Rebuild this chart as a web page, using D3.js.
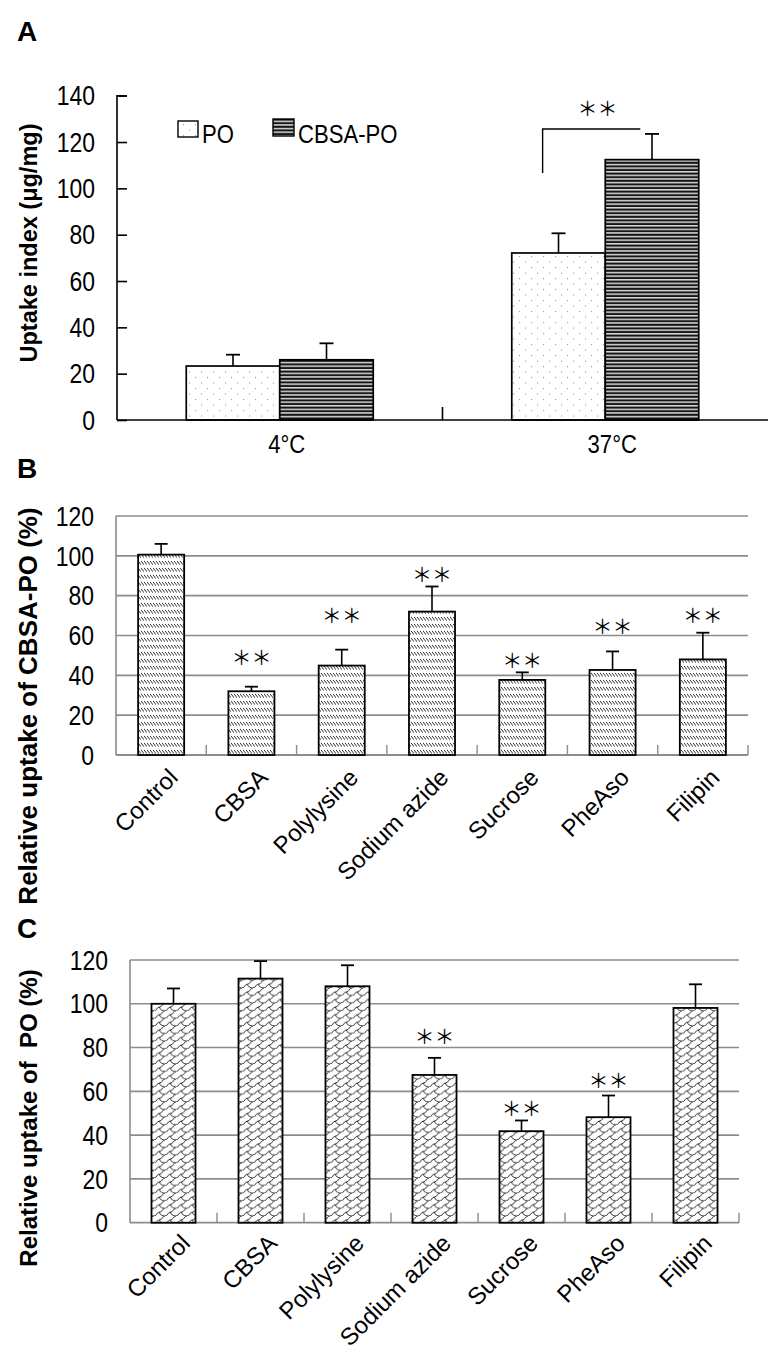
<!DOCTYPE html>
<html><head><meta charset="utf-8">
<script src="https://cdn.jsdelivr.net/npm/d3@7"></script>
<style>
html,body{margin:0;padding:0;background:#fff;}
svg{display:block;font-family:"Liberation Sans",Arial,sans-serif;}
</style></head>
<body>
<svg id="chart" width="784" height="1360"></svg>
<script>
// ---------- DATA ----------
const tempCategories = ["4°C", "37°C"];
const seriesA = ["PO", "CBSA-PO"];
const poValues = [23.3, 72.1];
const poErrors = [4.9, 8.5];
const cbsaPoValues = [26.0, 112.4];
const cbsaPoErrors = [7.1, 11.1];
const ticksA = [0, 20, 40, 60, 80, 100, 120, 140];
const sigA = { category: "37°C", top: 125.6, leg: 106.6, star: 135 };

const inhibitors = ["Control", "CBSA", "Polylysine", "Sodium azide", "Sucrose", "PheAso", "Filipin"];
const relCbsaPo = [100.6, 32.0, 44.9, 72.0, 37.7, 42.7, 48.0];
const relCbsaPoErr = [5.4, 2.3, 8.0, 12.6, 3.8, 9.3, 13.4];
const relCbsaPoStar = [null, 49.4, 70.3, 91.2, 48.2, 65.0, 70.3];
const relPo = [100.0, 111.5, 108.0, 67.5, 41.8, 48.2, 98.1];
const relPoErr = [7.0, 8.0, 9.6, 7.8, 4.9, 9.9, 10.8];
const relPoStar = [null, null, null, 85.3, 52.6, 65.5, null];
const ticksRel = [0, 20, 40, 60, 80, 100, 120];

// ---------- SETUP ----------
const svg = d3.select("#chart");
const defs = svg.append("defs");
const FONT = '"Liberation Sans",Arial,sans-serif';
const STAR = "＊＊";
const STARFONT = '"Noto Sans CJK SC","Noto Sans CJK JP",sans-serif';
const NARROW = 0.85;

function ctext(g, x, y, txt, size, anchor, baseline) {
  return g.append("text")
    .attr("transform", `translate(${x},${y}) scale(${NARROW},1)`)
    .attr("text-anchor", anchor || "start")
    .attr("dominant-baseline", baseline || "auto")
    .attr("font-family", FONT).attr("font-size", size).text(txt);
}

// patterns
const pDots = defs.append("pattern").attr("id", "pDots").attr("patternUnits", "userSpaceOnUse")
  .attr("width", 12).attr("height", 11);
pDots.append("rect").attr("width", 12).attr("height", 11).attr("fill", "#fff");
pDots.append("rect").attr("x", 3).attr("y", 3).attr("width", 1.1).attr("height", 1.1).attr("fill", "#999");
pDots.append("rect").attr("x", 9).attr("y", 8.5).attr("width", 1.1).attr("height", 1.1).attr("fill", "#999");

const pStripe = defs.append("pattern").attr("id", "pStripe").attr("patternUnits", "userSpaceOnUse")
  .attr("width", 8).attr("height", 3.6);
pStripe.append("rect").attr("width", 8).attr("height", 3.6).attr("fill", "#9c9c9c");
pStripe.append("rect").attr("y", 0).attr("width", 8).attr("height", 1.9).attr("fill", "#151515");
pStripe.append("rect").attr("y", 1.9).attr("width", 8).attr("height", 0.7).attr("fill", "#eeeeee");

const pHatch = defs.append("pattern").attr("id", "pHatch").attr("patternUnits", "userSpaceOnUse")
  .attr("width", 3).attr("height", 7);
pHatch.append("rect").attr("width", 3).attr("height", 7).attr("fill", "#fff");
pHatch.append("line").attr("x1", 0).attr("y1", 0.8).attr("x2", 3).attr("y2", 4.8)
  .attr("stroke", "#333").attr("stroke-width", 1);

const pScale = defs.append("pattern").attr("id", "pScale").attr("patternUnits", "userSpaceOnUse")
  .attr("width", 11).attr("height", 7.6);
pScale.append("rect").attr("width", 11).attr("height", 7.6).attr("fill", "#fff");
pScale.append("path")
  .attr("d", "M0,7.6 C3,7.6 2.5,3.8 5.5,3.8 C8.5,3.8 8,0 11,0 M5.5,3.8 C5.8,6.3 8,7.6 11,7.6")
  .attr("fill", "none").attr("stroke", "#111").attr("stroke-width", 0.85);

function drawStars(g, x, y) {
  g.append("text").attr("x", x).attr("y", y).attr("text-anchor", "middle")
    .attr("dominant-baseline", "central").attr("font-family", STARFONT)
    .attr("font-size", 20).attr("fill", "#000").text(STAR);
}

function errBar(g, cx, y0, y1, cap) {
  g.append("line").attr("x1", cx).attr("x2", cx).attr("y1", y0).attr("y2", y1)
    .attr("stroke", "#000").attr("stroke-width", 1.6);
  g.append("line").attr("x1", cx - cap / 2).attr("x2", cx + cap / 2).attr("y1", y1).attr("y2", y1)
    .attr("stroke", "#000").attr("stroke-width", 1.8);
}

// ---------- PANEL A ----------
{
  const g = svg.append("g");
  g.append("text").attr("x", 17).attr("y", 41).attr("font-family", FONT).attr("font-weight", "bold")
    .attr("font-size", 28).text("A");
  const x0 = d3.scaleBand().domain(tempCategories).range([117, 768]);
  const bw = x0.bandwidth();
  const x1 = d3.scaleBand().domain(seriesA).range([bw * 0.2128, bw * 0.7872]);
  const y = d3.scaleLinear().domain([0, 140]).range([420, 95.7]);
  const valsBySeries = { "PO": [poValues, poErrors, "url(#pDots)"], "CBSA-PO": [cbsaPoValues, cbsaPoErrors, "url(#pStripe)"] };

  const ya = g.append("g").attr("transform", "translate(117,0)")
    .call(d3.axisRight(y).tickValues(ticksA).tickSize(10).tickFormat(""));
  ya.selectAll("path,line").attr("stroke", "#000").attr("stroke-width", 1.6);
  ya.select(".domain").attr("d", `M10,${y(140)}H0V${y(0)}`);
  ticksA.forEach(t => ctext(g, 95, y(t), t, 27, "end", "central"));

  seriesA.forEach(s => {
    const [vals, errs, fill] = valsBySeries[s];
    tempCategories.forEach((c, i) => {
      const bx = x0(c) + x1(s);
      g.append("rect").attr("x", bx).attr("y", y(vals[i])).attr("width", x1.bandwidth())
        .attr("height", y(0) - y(vals[i])).attr("fill", fill).attr("stroke", "#000").attr("stroke-width", 1.7);
      errBar(g, bx + x1.bandwidth() / 2, y(vals[i]), y(vals[i] + errs[i]), 14);
    });
  });

  g.append("line").attr("x1", 117).attr("x2", 768).attr("y1", y(0)).attr("y2", y(0))
    .attr("stroke", "#000").attr("stroke-width", 1.6);
  g.append("line").attr("x1", x0(tempCategories[1])).attr("x2", x0(tempCategories[1]))
    .attr("y1", y(0)).attr("y2", y(0) - 13).attr("stroke", "#000").attr("stroke-width", 1.6);
  tempCategories.forEach(c => ctext(g, x0(c) + bw / 2 + 7, 453, c, 26, "middle"));

  const leg = [["PO", 178, 121, 20, 16, "url(#pDots)"], ["CBSA-PO", 273, 119, 21, 17, "url(#pStripe)"]];
  leg.forEach(([t, lx, ly, w, h, f]) => {
    g.append("rect").attr("x", lx).attr("y", ly).attr("width", w).attr("height", h)
      .attr("fill", f).attr("stroke", "#000").attr("stroke-width", 1.4);
    ctext(g, lx + w + 4, 143, t, 26, "start");
  });

  const bxL = x0(sigA.category) + x1("PO") + x1.bandwidth() * 0.33;
  const bxR = x0(sigA.category) + x1("CBSA-PO") + x1.bandwidth() * 0.375;
  g.append("path").attr("d", `M${bxL},${y(sigA.leg)}V${y(sigA.top)}H${bxR}`)
    .attr("fill", "none").attr("stroke", "#000").attr("stroke-width", 1.4);
  drawStars(g, (bxL + bxR) / 2 + 6, y(sigA.star));
  g.append("text").attr("transform", `translate(37,243) rotate(-90)`)
    .attr("text-anchor", "middle").attr("font-family", FONT).attr("font-weight", "bold")
    .attr("font-size", 23.5).text("Uptake index (μg/mg)");
}

// ---------- PANELS B & C ----------
function relPanel(opts) {
  const g = svg.append("g");
  const x = d3.scaleBand().domain(inhibitors).range([opts.left, opts.right])
    .paddingInner(opts.pad).paddingOuter(opts.pad / 2);
  const y = d3.scaleLinear().domain([0, 120]).range([opts.bottom, opts.top]);
  const grid = "#8c8c8c";
  g.selectAll(".grid").data(ticksRel.filter(d => d > 0)).join("line")
    .attr("x1", opts.left).attr("x2", opts.right).attr("y1", d => y(d)).attr("y2", d => y(d))
    .attr("stroke", grid).attr("stroke-width", 1.6);
  g.append("line").attr("x1", opts.left).attr("x2", opts.left).attr("y1", y(120)).attr("y2", y(0))
    .attr("stroke", grid).attr("stroke-width", 1.6);
  g.append("line").attr("x1", opts.left).attr("x2", opts.right).attr("y1", y(0)).attr("y2", y(0))
    .attr("stroke", grid).attr("stroke-width", 1.8);
  const step = x.step();
  inhibitors.forEach(c => {
    const tx = x(c) - x.paddingOuter() * step + step;
    g.append("line").attr("x1", tx).attr("x2", tx).attr("y1", y(0)).attr("y2", y(0) - 10)
      .attr("stroke", grid).attr("stroke-width", 1.4);
  });
  ticksRel.forEach(t => ctext(g, opts.left - 22, y(t), t, 27, "end", "central"));
  inhibitors.forEach((c, i) => {
    const v = opts.values[i];
    g.append("rect").attr("x", x(c)).attr("y", y(v)).attr("width", x.bandwidth())
      .attr("height", y(0) - y(v)).attr("fill", opts.fill).attr("stroke", "#000").attr("stroke-width", 1.8);
    errBar(g, x(c) + x.bandwidth() / 2, y(v), y(v + opts.errors[i]), 13);
    if (opts.stars[i] != null) drawStars(g, x(c) + x.bandwidth() / 2, y(opts.stars[i]));
  });
  inhibitors.forEach(c => {
    const cx = x(c) + x.bandwidth() / 2;
    g.append("text").attr("transform", `translate(${cx + opts.ldx},${y(0) + opts.ldy}) rotate(-45)`)
      .attr("text-anchor", "end").attr("dominant-baseline", "central")
      .attr("font-family", FONT).attr("font-size", 24).text(c);
  });
  g.append("text").attr("transform", `translate(${opts.titleX},${opts.titleY}) rotate(-90)`)
    .attr("text-anchor", "middle").attr("font-family", FONT).attr("font-weight", "bold")
    .attr("font-size", opts.titleSize).style("white-space", "pre").text(opts.title);
  g.append("text").attr("x", 17).attr("y", opts.letterY).attr("font-family", FONT).attr("font-weight", "bold")
    .attr("font-size", 28).text(opts.letter);
}

relPanel({ left: 116, right: 748, top: 516, bottom: 755, pad: 0.49, values: relCbsaPo, errors: relCbsaPoErr,
  stars: relCbsaPoStar, fill: "url(#pHatch)", ldx: 12, ldy: 18, title: "Relative uptake of CBSA-PO (%)",
  titleX: 37, titleY: 706, titleSize: 26, letter: "B", letterY: 478 });

relPanel({ left: 130, right: 739, top: 960, bottom: 1222.7, pad: 0.494, values: relPo, errors: relPoErr,
  stars: relPoStar, fill: "url(#pScale)", ldx: 12, ldy: 16, title: "Relative uptake of  PO (%)",
  titleX: 37, titleY: 1118, titleSize: 24, letter: "C", letterY: 938 });
</script>
</body></html>
